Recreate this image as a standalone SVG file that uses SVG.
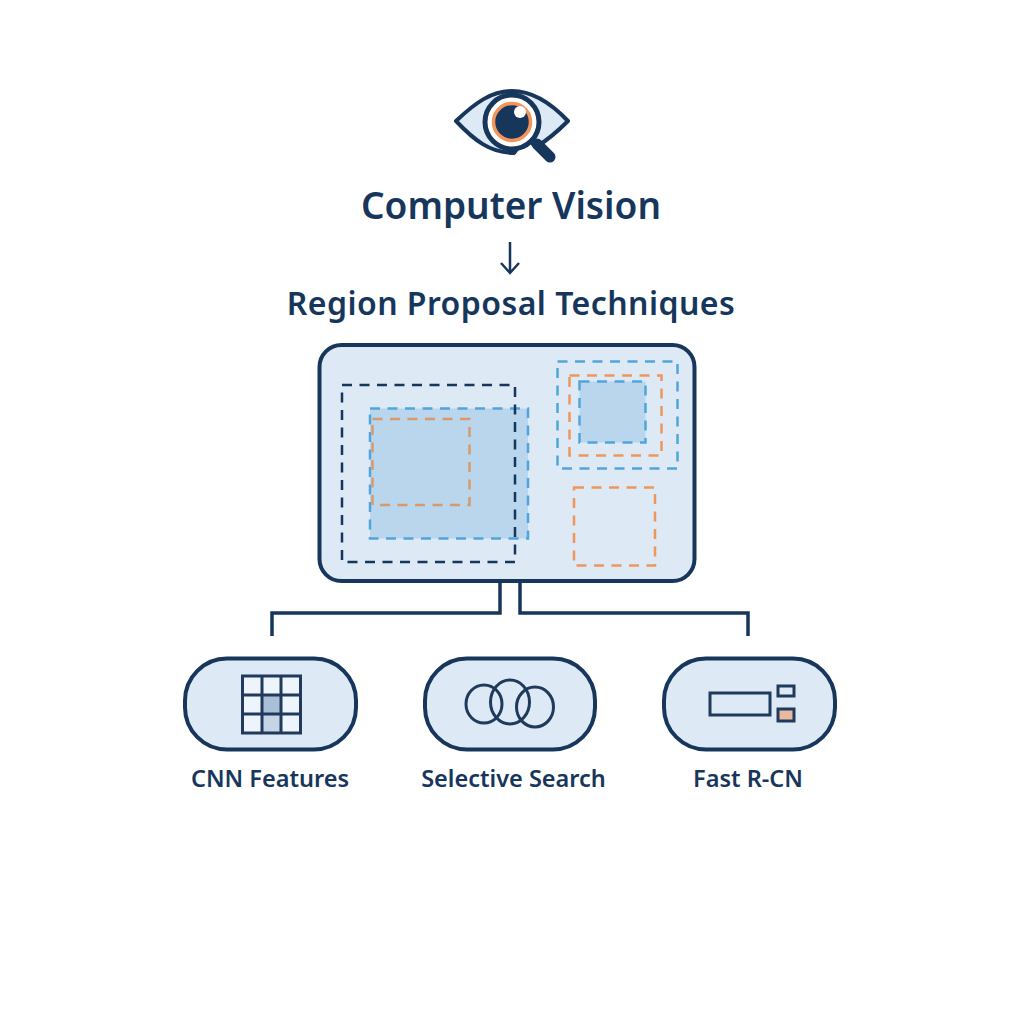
<svg xmlns="http://www.w3.org/2000/svg" width="1024" height="1024" viewBox="0 0 1024 1024">
<style>
text{font-family:"Noto Sans","Open Sans",sans-serif;fill:#17365c;text-anchor:middle;font-weight:600}
.t1{font-size:37px}.t2{font-size:32px;letter-spacing:.45px}.t3{font-size:23.500px}
.ln{fill:none;stroke:#17365c;stroke-width:3.500}
.n{fill:#dde9f5;stroke:#17365c;stroke-width:4}
.ic{fill:none;stroke:#1f3a5c;stroke-width:3}
.d{fill:none;stroke-width:2.500;stroke-dasharray:10 7.500}
.nv{stroke:#17365c}.bl{stroke:#52a5dc}.or{stroke:#f0965a}
</style>
<rect width="1024" height="1024" fill="#fff"/>
<g id="eye-icon">
<path d="M456 121C476 102 492 91 512 91C532 91 550 102 568 121C556 133 546 141 536 147L526 137L514 153C490 153 474 140 456 121Z" fill="#dde9f5" stroke="#17365c" stroke-width="4" stroke-linejoin="round"/>
<circle cx="512" cy="122" r="27" fill="#fff" stroke="#17365c" stroke-width="5"/>
<circle cx="512" cy="122" r="18.500" fill="#17365c" stroke="#f0965a" stroke-width="3.500"/>
<circle cx="520" cy="112" r="6" fill="#fff"/>
<path d="M537 144L550 157" stroke="#17365c" stroke-width="11" stroke-linecap="round"/>
</g>
<g id="title"><text class="t1" x="511" y="219">Computer Vision</text></g>
<g id="title-arrow" fill="none" stroke="#17365c" stroke-width="2.500"><path d="M510 242V273M501 263L510 273L519 263"/></g>
<g id="subtitle"><text class="t2" x="511" y="315">Region Proposal Techniques</text></g>
<g id="connectors" class="ln">
<path d="M500 582V613H272V636"/>
<path d="M520 582V613H748V636"/>
</g>
<g id="region-panel">
<rect x="319.500" y="345" width="375" height="236" rx="22" class="n"/>
<rect x="370" y="408.500" width="158" height="130" fill="#b9d6ec"/>
<rect x="370" y="408.500" width="158" height="130" class="d bl"/>
<rect x="372.500" y="419" width="97" height="86" class="d" stroke="#d79a6e"/>
<rect x="342" y="385" width="173" height="177" class="d nv"/>
<rect x="557.500" y="361.500" width="120" height="107" class="d bl"/>
<rect x="569.500" y="375.500" width="92" height="80" class="d or"/>
<rect x="579.500" y="381.500" width="66" height="61" fill="#b9d6ec"/>
<rect x="579.500" y="381.500" width="66" height="61" class="d bl"/>
<rect x="574" y="487.500" width="81" height="78" class="d or"/>
</g>
<g id="cnn-features">
<rect x="185" y="658.500" width="171" height="91" rx="42" class="n"/>
<rect x="242.500" y="676" width="58" height="57" fill="#eef4fb"/>
<rect x="262" y="695" width="19" height="19" fill="#a9bfd6"/>
<rect x="262" y="714" width="19" height="19" fill="#c5d5e6"/>
<path class="ic" d="M242.500 676h58v57h-58zM262 676v57M281 676v57M242.500 695h58M242.500 714h58"/>
<text class="t3" x="270" y="787">CNN Features</text>
</g>
<g id="selective-search">
<rect x="425" y="658.500" width="170" height="91" rx="42" class="n"/>
<ellipse cx="484" cy="704" rx="18" ry="19" class="ic"/>
<ellipse cx="510" cy="702" rx="19.500" ry="22" class="ic"/>
<ellipse cx="535" cy="707" rx="18.500" ry="20" class="ic"/>
<text class="t3" x="513.500" y="787">Selective Search</text>
</g>
<g id="fast-rcnn">
<rect x="664" y="658.500" width="171" height="91" rx="42" class="n"/>
<rect x="710" y="693" width="60" height="22" class="ic"/>
<rect x="778" y="686" width="16" height="10" class="ic"/>
<rect x="778" y="709" width="16" height="12" fill="#e8b9a0" stroke="#1f3a5c" stroke-width="3"/>
<text class="t3" x="748" y="787">Fast R-CN</text>
</g>
</svg>
